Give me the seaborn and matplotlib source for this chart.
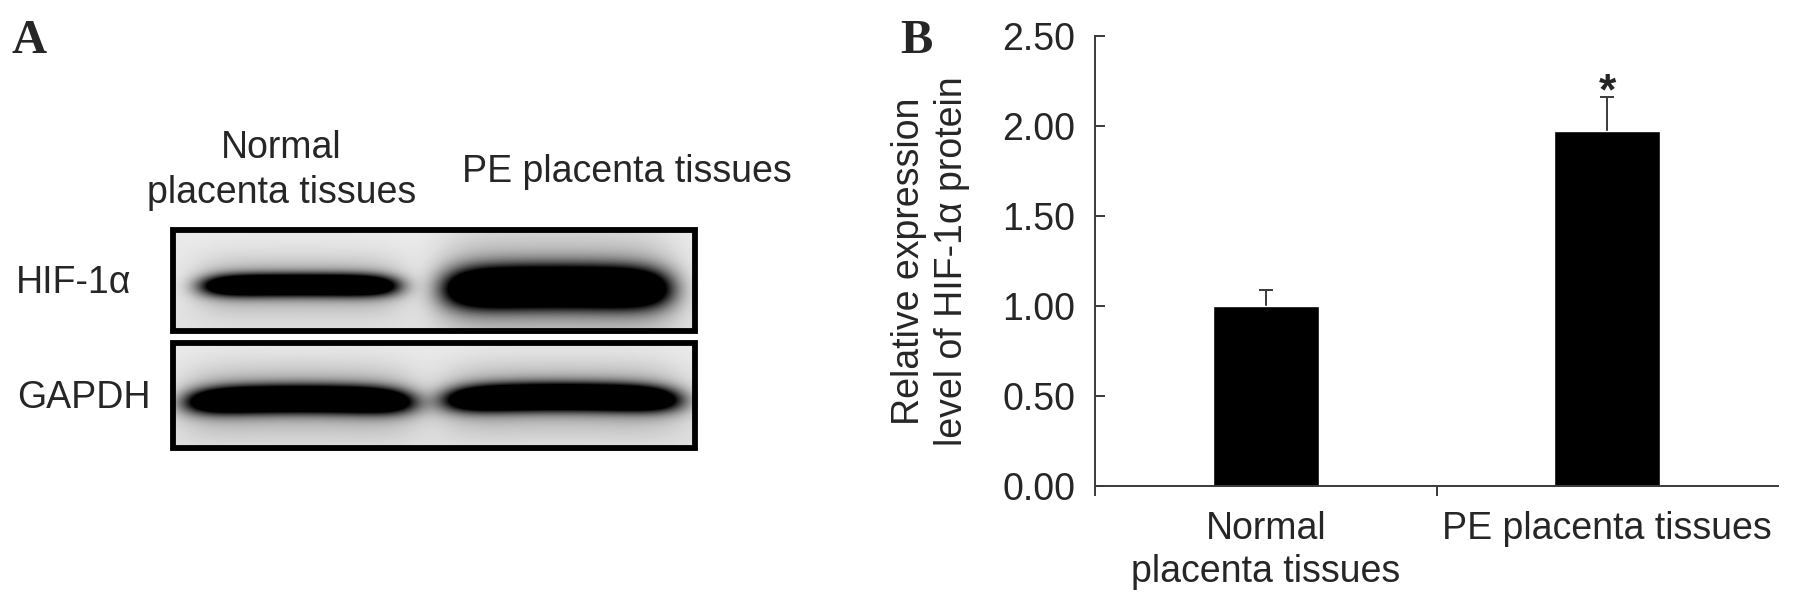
import numpy as np
import pandas as pd
import matplotlib
matplotlib.use("Agg")
import matplotlib.pyplot as plt
from matplotlib.patches import Rectangle
from matplotlib.ticker import FixedLocator
import seaborn as sns

# ============================================================
# Data
# ============================================================
groups = ["Normal\nplacenta tissues", "PE placenta tissues"]
means = [1.00, 1.97]
sem = [0.087, 0.19]
yticks = [0.0, 0.5, 1.0, 1.5, 2.0, 2.5]

# western blot (panel A): relative band strength per lane
blot_rows = ["HIF-1α", "GAPDH"]
hif_band = [0.9, 1.0]
gapdh_band = [1.0, 1.0]

# ============================================================
# Style
# ============================================================
sns.set_style("ticks")
plt.rcParams["font.family"] = ["Liberation Sans", "DejaVu Sans"]
FS = 27
AXIS_COLOR = "#3a3a3a"

fig = plt.figure(figsize=(17.95, 6.04), dpi=100)

# ============================================================
# Panel A - blot, drawn in pixel units
# ============================================================
ax_a = fig.add_axes([0, 0, 1, 1])
ax_a.set_xlim(0, 1795)
ax_a.set_ylim(604, 0)
ax_a.axis("off")

box_x = (170, 698)
box_y = [(227, 334), (340, 451)]
# lane geometry: (x center, half width, y center, half height, arc)
lane_geom = [
    [(300, 96, 285, 10, 1), (557, 110, 287, 19, 2)],
    [(300, 110, 399, 12, 3), (562, 114, 397, 12, 3)],
]
strengths = [hif_band, gapdh_band]

for row, (y0, y1) in enumerate(box_y):
    xs = np.arange(box_x[0], box_x[1]) + 0.5
    ys = np.arange(y0, y1) + 0.5
    X, Y = np.meshgrid(xs, ys)
    dark = np.zeros_like(X)
    for (xc, wx, yc, h, arc), s in zip(lane_geom[row], strengths[row]):
        u = (X - xc) / wx
        yy = Y - (yc + arc * u ** 2)
        core = np.exp(-np.abs(u) ** 6 - (yy / h) ** 2)
        halo = np.exp(-np.abs(u / 1.05) ** 6 - (yy / (h * 2.6)) ** 2)
        dark += s * (1.9 * core + 0.3 * halo)
    bg = 0.92 - 0.04 * (Y - y0) / (y1 - y0)
    img = np.clip(bg - dark, 0, 1)
    ax_a.imshow(img, cmap="gray", vmin=0, vmax=1, extent=(box_x[0], box_x[1], y1, y0),
                aspect="auto", interpolation="bilinear")
    ax_a.add_patch(Rectangle((box_x[0] + 3, y0 + 3), box_x[1] - box_x[0] - 6, y1 - y0 - 6,
                             fill=False, lw=4.2, ec="black"))

ax_a.text(16, 293, blot_rows[0], fontsize=FS, ha="left", va="baseline")
ax_a.text(17, 408, blot_rows[1], fontsize=FS, ha="left", va="baseline")
ax_a.text(281, 158, "Normal", fontsize=FS, ha="center", va="baseline")
ax_a.text(282, 203, "placenta tissues", fontsize=FS, ha="center", va="baseline")
ax_a.text(627, 182, "PE placenta tissues", fontsize=FS, ha="center", va="baseline")

ax_a.text(12, 53, "A", fontsize=35, fontweight="bold", family="Liberation Serif", va="baseline")
ax_a.text(900, 53, "B", fontsize=35, fontweight="bold", family="Liberation Serif", va="baseline")

# ============================================================
# Panel B - bar chart
# ============================================================
ax_b = fig.add_axes([1095 / 1795, 1 - 486 / 604, 683 / 1795, 450 / 604])

df = pd.DataFrame({"group": groups, "value": means})
sns.barplot(data=df, x="group", y="value", color="black", saturation=1,
            width=0.31, errorbar=None, ax=ax_b)

_, caps, _ = ax_b.errorbar(range(len(means)), means, yerr=[[0] * len(sem), sem], fmt="none",
                           ecolor=AXIS_COLOR, elinewidth=1.4, capsize=4.7, capthick=1.4,
                           zorder=0.9)
caps[0].set_visible(False)  # only the upper cap

ax_b.annotate("*", xy=(1, means[1] + sem[1]), xytext=(0, -12), textcoords="offset points",
              ha="center", va="bottom", fontsize=32, fontweight="bold")

ax_b.set_ylim(0, 2.5)
ax_b.set_xlim(-0.5, len(groups) - 0.5)
ax_b.set_yticks(yticks)
ax_b.set_yticklabels([f"{v:.2f}" for v in yticks], fontsize=FS)
ax_b.tick_params(axis="y", direction="in", length=7, width=1.4, color=AXIS_COLOR, pad=14)
ax_b.tick_params(axis="x", which="major", length=0, pad=18, labelsize=FS)
ax_b.xaxis.set_minor_locator(FixedLocator([-0.5, 0.5]))
ax_b.tick_params(axis="x", which="minor", direction="out", length=7, width=1.4, color=AXIS_COLOR)
for lbl in ax_b.get_xticklabels():
    lbl.set_linespacing(1.25)

ax_b.set_xlabel("")
ax_b.set_ylabel("Relative expression\nlevel of HIF-1α protein", fontsize=FS, linespacing=1.25)
ax_b.yaxis.set_label_coords(-0.183, 0.5)

sns.despine(ax=ax_b)
for side in ["left", "bottom"]:
    ax_b.spines[side].set_color(AXIS_COLOR)
    ax_b.spines[side].set_linewidth(1.4)

fig.savefig("out.png", dpi=100)
